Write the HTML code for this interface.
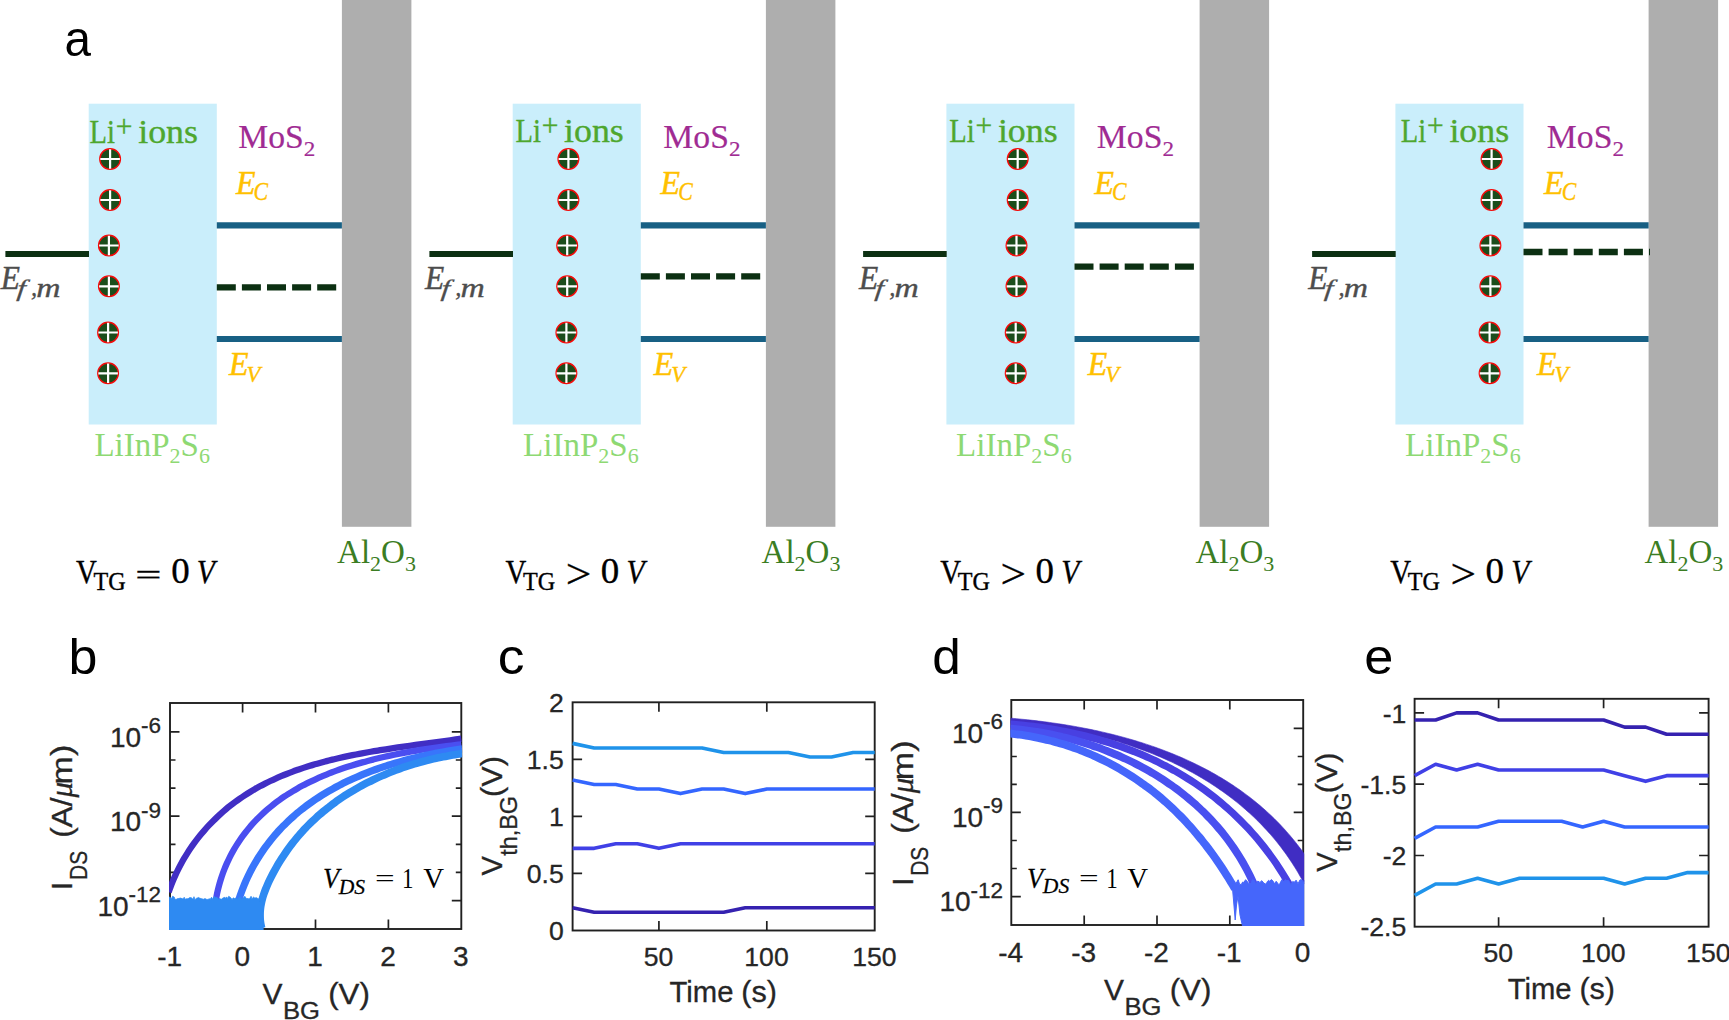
<!DOCTYPE html>
<html lang="en">
<head>
<meta charset="utf-8">
<title>Figure</title>
<style>
html,body{margin:0;padding:0;background:#fff;}
body{width:1729px;height:1020px;overflow:hidden;}
svg{display:block;}
</style>
</head>
<body>
<svg width="1729" height="1020" viewBox="0 0 1729 1020">
<rect width="1729" height="1020" fill="#fff"/>
<g id="panel-a">
<text transform="translate(64.38 56.19) scale(0.9369 1.0000)" font-family='"Liberation Sans", sans-serif' font-size="50.78" fill="#000">a</text>
<rect x="341.9" y="0" width="69.5" height="526.8" fill="#aeaeae"/>
<rect x="88.7" y="103.7" width="128.1" height="320.8" fill="#caeefb"/>
<line x1="5.4" y1="254" x2="89" y2="254" stroke="#0c3012" stroke-width="6.1"/>
<line x1="216.8" y1="225.3" x2="341.9" y2="225.3" stroke="#186084" stroke-width="6.2"/>
<line x1="216.8" y1="339" x2="341.9" y2="339" stroke="#186084" stroke-width="6.2"/>
<line x1="216.8" y1="287.3" x2="336.5" y2="287.3" stroke="#0c3012" stroke-width="6.3" stroke-dasharray="19 6.1"/>
<g transform="translate(110.1 159)"><circle r="10.25" fill="#1b4d1b" stroke="#f50a0a" stroke-width="1.5"/><path d="M-9.8 0H9.8M0 -9.8V9.8" stroke="#fff" stroke-width="2.2" fill="none"/></g>
<g transform="translate(110.1 200)"><circle r="10.25" fill="#1b4d1b" stroke="#f50a0a" stroke-width="1.5"/><path d="M-9.8 0H9.8M0 -9.8V9.8" stroke="#fff" stroke-width="2.2" fill="none"/></g>
<g transform="translate(108.9 245.5)"><circle r="10.25" fill="#1b4d1b" stroke="#f50a0a" stroke-width="1.5"/><path d="M-9.8 0H9.8M0 -9.8V9.8" stroke="#fff" stroke-width="2.2" fill="none"/></g>
<g transform="translate(108.9 286.3)"><circle r="10.25" fill="#1b4d1b" stroke="#f50a0a" stroke-width="1.5"/><path d="M-9.8 0H9.8M0 -9.8V9.8" stroke="#fff" stroke-width="2.2" fill="none"/></g>
<g transform="translate(108.1 332.5)"><circle r="10.25" fill="#1b4d1b" stroke="#f50a0a" stroke-width="1.5"/><path d="M-9.8 0H9.8M0 -9.8V9.8" stroke="#fff" stroke-width="2.2" fill="none"/></g>
<g transform="translate(108.1 373.3)"><circle r="10.25" fill="#1b4d1b" stroke="#f50a0a" stroke-width="1.5"/><path d="M-9.8 0H9.8M0 -9.8V9.8" stroke="#fff" stroke-width="2.2" fill="none"/></g>
<text transform="translate(89.61 142.9) scale(0.8413 1.0000)" font-family='"Liberation Serif", serif' font-size="34" fill="#4ea72e" stroke="#4ea72e" stroke-width="0.35">Li</text>
<text transform="translate(115.83 136.68) scale(0.9580 1.0000)" font-family='"Liberation Serif", serif' font-size="30.75" fill="#4ea72e" stroke="#4ea72e" stroke-width="0.35">+</text>
<text transform="translate(138.18 142.9) scale(1.0541 1.0000)" font-family='"Liberation Serif", serif' font-size="34" fill="#4ea72e" stroke="#4ea72e" stroke-width="0.35">ions</text>
<text transform="translate(238.17 147.9) scale(0.9912 1.0000)" font-family='"Liberation Serif", serif' font-size="34" fill="#a02b93" stroke="#a02b93" stroke-width="0.2">MoS</text>
<text transform="translate(303.82 155.8) scale(1.0503 1.0000)" font-family='"Liberation Serif", serif' font-size="22" fill="#a02b93" stroke="#a02b93" stroke-width="0.2">2</text>
<text transform="translate(236 193.5) scale(0.9392 1.0000)" font-family='"Liberation Serif", serif' font-size="34" font-style="italic" fill="#ffc000" stroke="#ffc000" stroke-width="0.5">E</text>
<text transform="translate(253.6 200.45) scale(0.8694 1.0000)" font-family='"Liberation Serif", serif' font-size="25.13" font-style="italic" fill="#ffc000" stroke="#ffc000" stroke-width="0.35">C</text>
<text transform="translate(229 374.9) scale(0.9392 1.0000)" font-family='"Liberation Serif", serif' font-size="34" font-style="italic" fill="#ffc000" stroke="#ffc000" stroke-width="0.5">E</text>
<text transform="translate(246.51 381.84) scale(0.9586 1.0000)" font-family='"Liberation Serif", serif' font-size="23.73" font-style="italic" fill="#ffc000" stroke="#ffc000" stroke-width="0.35">V</text>
<text transform="translate(0.69 289.4) scale(0.9247 1.0000)" font-family='"Liberation Serif", serif' font-size="34" font-style="italic" fill="#4d4d4d" stroke="#4d4d4d" stroke-width="0.45">E</text>
<text transform="translate(16.42 295.8) skewX(-6) scale(1.3026 1.0000)" font-family='"Liberation Serif", serif' font-size="23.54" font-style="italic" fill="#4d4d4d" stroke="#4d4d4d" stroke-width="0.3">f</text>
<text transform="translate(31 295.71) scale(1.0020 1.0000)" font-family='"Liberation Serif", serif' font-size="24.47" font-style="italic" fill="#4d4d4d" stroke="#4d4d4d" stroke-width="0.35">,</text>
<text transform="translate(36.32 296.7) scale(1.2353 1.0000)" font-family='"Liberation Serif", serif' font-size="27.23" font-style="italic" fill="#4d4d4d" stroke="#4d4d4d" stroke-width="0.35">m</text>
<text x="94.4" y="455.8" font-family='"Liberation Serif", serif' font-size="33" fill="#8ed973">LiInP<tspan font-size="22" dy="7.4">2</tspan><tspan dy="-7.4">S</tspan><tspan font-size="22" dy="7.4">6</tspan></text>
<text x="337.1" y="563.2" font-family='"Liberation Serif", serif' font-size="33" fill="#3b7d23">Al<tspan font-size="22" dy="7.6">2</tspan><tspan dy="-7.6">O</tspan><tspan font-size="22" dy="7.6">3</tspan></text>
<text transform="translate(75.91 583.3) scale(0.8487 1.0000)" font-family='"Liberation Serif", serif' font-size="34" fill="#000" stroke="#000" stroke-width="0.35">V</text>
<text transform="translate(93.48 589.9) scale(0.9947 1.0000)" font-family='"Liberation Serif", serif' font-size="24.3" fill="#000" stroke="#000" stroke-width="0.35">TG</text>
<text transform="translate(135.28 584.58) scale(1.3662 0.8471)" font-family='"Liberation Serif", serif' font-size="34" fill="#000" stroke="#000" stroke-width="0.35">=</text>
<text transform="translate(171.21 583.45) scale(1.0566 1.0000)" font-family='"Liberation Serif", serif' font-size="34.96" fill="#000" stroke="#000" stroke-width="0.35">0</text>
<text transform="translate(196.85 583.09) scale(0.8666 1.0000)" font-family='"Liberation Serif", serif' font-size="34.18" font-style="italic" fill="#000" stroke="#000" stroke-width="0.35">V</text>
<rect x="765.9" y="0" width="69.5" height="526.8" fill="#aeaeae"/>
<rect x="512.7" y="103.7" width="128.1" height="320.8" fill="#caeefb"/>
<line x1="429.4" y1="254" x2="513" y2="254" stroke="#0c3012" stroke-width="6.1"/>
<line x1="640.8" y1="225.3" x2="765.9" y2="225.3" stroke="#186084" stroke-width="6.2"/>
<line x1="640.8" y1="339" x2="765.9" y2="339" stroke="#186084" stroke-width="6.2"/>
<line x1="640.8" y1="276.4" x2="760.4" y2="276.4" stroke="#0c3012" stroke-width="6.3" stroke-dasharray="19 6.1"/>
<g transform="translate(568.4 159)"><circle r="10.25" fill="#1b4d1b" stroke="#f50a0a" stroke-width="1.5"/><path d="M-9.8 0H9.8M0 -9.8V9.8" stroke="#fff" stroke-width="2.2" fill="none"/></g>
<g transform="translate(568.4 200)"><circle r="10.25" fill="#1b4d1b" stroke="#f50a0a" stroke-width="1.5"/><path d="M-9.8 0H9.8M0 -9.8V9.8" stroke="#fff" stroke-width="2.2" fill="none"/></g>
<g transform="translate(567.2 245.5)"><circle r="10.25" fill="#1b4d1b" stroke="#f50a0a" stroke-width="1.5"/><path d="M-9.8 0H9.8M0 -9.8V9.8" stroke="#fff" stroke-width="2.2" fill="none"/></g>
<g transform="translate(567.2 286.3)"><circle r="10.25" fill="#1b4d1b" stroke="#f50a0a" stroke-width="1.5"/><path d="M-9.8 0H9.8M0 -9.8V9.8" stroke="#fff" stroke-width="2.2" fill="none"/></g>
<g transform="translate(566.4 332.5)"><circle r="10.25" fill="#1b4d1b" stroke="#f50a0a" stroke-width="1.5"/><path d="M-9.8 0H9.8M0 -9.8V9.8" stroke="#fff" stroke-width="2.2" fill="none"/></g>
<g transform="translate(566.4 373.3)"><circle r="10.25" fill="#1b4d1b" stroke="#f50a0a" stroke-width="1.5"/><path d="M-9.8 0H9.8M0 -9.8V9.8" stroke="#fff" stroke-width="2.2" fill="none"/></g>
<text transform="translate(515.51 142.1) scale(0.8413 1.0000)" font-family='"Liberation Serif", serif' font-size="34" fill="#4ea72e" stroke="#4ea72e" stroke-width="0.35">Li</text>
<text transform="translate(541.73 135.88) scale(0.9580 1.0000)" font-family='"Liberation Serif", serif' font-size="30.75" fill="#4ea72e" stroke="#4ea72e" stroke-width="0.35">+</text>
<text transform="translate(564.08 142.1) scale(1.0541 1.0000)" font-family='"Liberation Serif", serif' font-size="34" fill="#4ea72e" stroke="#4ea72e" stroke-width="0.35">ions</text>
<text transform="translate(663.37 147.9) scale(0.9912 1.0000)" font-family='"Liberation Serif", serif' font-size="34" fill="#a02b93" stroke="#a02b93" stroke-width="0.2">MoS</text>
<text transform="translate(729.02 155.8) scale(1.0503 1.0000)" font-family='"Liberation Serif", serif' font-size="22" fill="#a02b93" stroke="#a02b93" stroke-width="0.2">2</text>
<text transform="translate(660.6 193.5) scale(0.9392 1.0000)" font-family='"Liberation Serif", serif' font-size="34" font-style="italic" fill="#ffc000" stroke="#ffc000" stroke-width="0.5">E</text>
<text transform="translate(678.2 200.45) scale(0.8694 1.0000)" font-family='"Liberation Serif", serif' font-size="25.13" font-style="italic" fill="#ffc000" stroke="#ffc000" stroke-width="0.35">C</text>
<text transform="translate(653.8 374.9) scale(0.9392 1.0000)" font-family='"Liberation Serif", serif' font-size="34" font-style="italic" fill="#ffc000" stroke="#ffc000" stroke-width="0.5">E</text>
<text transform="translate(671.31 381.84) scale(0.9586 1.0000)" font-family='"Liberation Serif", serif' font-size="23.73" font-style="italic" fill="#ffc000" stroke="#ffc000" stroke-width="0.35">V</text>
<text transform="translate(424.99 289.4) scale(0.9247 1.0000)" font-family='"Liberation Serif", serif' font-size="34" font-style="italic" fill="#4d4d4d" stroke="#4d4d4d" stroke-width="0.45">E</text>
<text transform="translate(440.72 295.8) skewX(-6) scale(1.3026 1.0000)" font-family='"Liberation Serif", serif' font-size="23.54" font-style="italic" fill="#4d4d4d" stroke="#4d4d4d" stroke-width="0.3">f</text>
<text transform="translate(455.3 295.71) scale(1.0020 1.0000)" font-family='"Liberation Serif", serif' font-size="24.47" font-style="italic" fill="#4d4d4d" stroke="#4d4d4d" stroke-width="0.35">,</text>
<text transform="translate(460.62 296.7) scale(1.2353 1.0000)" font-family='"Liberation Serif", serif' font-size="27.23" font-style="italic" fill="#4d4d4d" stroke="#4d4d4d" stroke-width="0.35">m</text>
<text x="523.1" y="455.8" font-family='"Liberation Serif", serif' font-size="33" fill="#8ed973">LiInP<tspan font-size="22" dy="7.4">2</tspan><tspan dy="-7.4">S</tspan><tspan font-size="22" dy="7.4">6</tspan></text>
<text x="761.6" y="563.2" font-family='"Liberation Serif", serif' font-size="33" fill="#3b7d23">Al<tspan font-size="22" dy="7.6">2</tspan><tspan dy="-7.6">O</tspan><tspan font-size="22" dy="7.6">3</tspan></text>
<text transform="translate(505.51 583.3) scale(0.8487 1.0000)" font-family='"Liberation Serif", serif' font-size="34" fill="#000" stroke="#000" stroke-width="0.35">V</text>
<text transform="translate(523.08 589.9) scale(0.9947 1.0000)" font-family='"Liberation Serif", serif' font-size="24.3" fill="#000" stroke="#000" stroke-width="0.35">TG</text>
<text transform="translate(565.73 587.64) scale(1.0621 1.0000)" font-family='"Liberation Serif", serif' font-size="42.69" fill="#000" stroke="#000" stroke-width="0.35">&gt;</text>
<text transform="translate(600.81 583.45) scale(1.0566 1.0000)" font-family='"Liberation Serif", serif' font-size="34.96" fill="#000" stroke="#000" stroke-width="0.35">0</text>
<text transform="translate(626.45 583.09) scale(0.8666 1.0000)" font-family='"Liberation Serif", serif' font-size="34.18" font-style="italic" fill="#000" stroke="#000" stroke-width="0.35">V</text>
<rect x="1199.6" y="0" width="69.5" height="526.8" fill="#aeaeae"/>
<rect x="946.4" y="103.7" width="128.1" height="320.8" fill="#caeefb"/>
<line x1="863.1" y1="254" x2="946.7" y2="254" stroke="#0c3012" stroke-width="6.1"/>
<line x1="1074.5" y1="225.3" x2="1199.6" y2="225.3" stroke="#186084" stroke-width="6.2"/>
<line x1="1074.5" y1="339" x2="1199.6" y2="339" stroke="#186084" stroke-width="6.2"/>
<line x1="1074.5" y1="266.6" x2="1194.3" y2="266.6" stroke="#0c3012" stroke-width="6.3" stroke-dasharray="19 6.1"/>
<g transform="translate(1017.7 159)"><circle r="10.25" fill="#1b4d1b" stroke="#f50a0a" stroke-width="1.5"/><path d="M-9.8 0H9.8M0 -9.8V9.8" stroke="#fff" stroke-width="2.2" fill="none"/></g>
<g transform="translate(1017.7 200)"><circle r="10.25" fill="#1b4d1b" stroke="#f50a0a" stroke-width="1.5"/><path d="M-9.8 0H9.8M0 -9.8V9.8" stroke="#fff" stroke-width="2.2" fill="none"/></g>
<g transform="translate(1016.5 245.5)"><circle r="10.25" fill="#1b4d1b" stroke="#f50a0a" stroke-width="1.5"/><path d="M-9.8 0H9.8M0 -9.8V9.8" stroke="#fff" stroke-width="2.2" fill="none"/></g>
<g transform="translate(1016.5 286.3)"><circle r="10.25" fill="#1b4d1b" stroke="#f50a0a" stroke-width="1.5"/><path d="M-9.8 0H9.8M0 -9.8V9.8" stroke="#fff" stroke-width="2.2" fill="none"/></g>
<g transform="translate(1015.7 332.5)"><circle r="10.25" fill="#1b4d1b" stroke="#f50a0a" stroke-width="1.5"/><path d="M-9.8 0H9.8M0 -9.8V9.8" stroke="#fff" stroke-width="2.2" fill="none"/></g>
<g transform="translate(1015.7 373.3)"><circle r="10.25" fill="#1b4d1b" stroke="#f50a0a" stroke-width="1.5"/><path d="M-9.8 0H9.8M0 -9.8V9.8" stroke="#fff" stroke-width="2.2" fill="none"/></g>
<text transform="translate(949.31 142.1) scale(0.8413 1.0000)" font-family='"Liberation Serif", serif' font-size="34" fill="#4ea72e" stroke="#4ea72e" stroke-width="0.35">Li</text>
<text transform="translate(975.53 135.88) scale(0.9580 1.0000)" font-family='"Liberation Serif", serif' font-size="30.75" fill="#4ea72e" stroke="#4ea72e" stroke-width="0.35">+</text>
<text transform="translate(997.88 142.1) scale(1.0541 1.0000)" font-family='"Liberation Serif", serif' font-size="34" fill="#4ea72e" stroke="#4ea72e" stroke-width="0.35">ions</text>
<text transform="translate(1096.87 147.9) scale(0.9912 1.0000)" font-family='"Liberation Serif", serif' font-size="34" fill="#a02b93" stroke="#a02b93" stroke-width="0.2">MoS</text>
<text transform="translate(1162.52 155.8) scale(1.0503 1.0000)" font-family='"Liberation Serif", serif' font-size="22" fill="#a02b93" stroke="#a02b93" stroke-width="0.2">2</text>
<text transform="translate(1094.4 193.5) scale(0.9392 1.0000)" font-family='"Liberation Serif", serif' font-size="34" font-style="italic" fill="#ffc000" stroke="#ffc000" stroke-width="0.5">E</text>
<text transform="translate(1112 200.45) scale(0.8694 1.0000)" font-family='"Liberation Serif", serif' font-size="25.13" font-style="italic" fill="#ffc000" stroke="#ffc000" stroke-width="0.35">C</text>
<text transform="translate(1087.8 374.9) scale(0.9392 1.0000)" font-family='"Liberation Serif", serif' font-size="34" font-style="italic" fill="#ffc000" stroke="#ffc000" stroke-width="0.5">E</text>
<text transform="translate(1105.31 381.84) scale(0.9586 1.0000)" font-family='"Liberation Serif", serif' font-size="23.73" font-style="italic" fill="#ffc000" stroke="#ffc000" stroke-width="0.35">V</text>
<text transform="translate(858.89 289.4) scale(0.9247 1.0000)" font-family='"Liberation Serif", serif' font-size="34" font-style="italic" fill="#4d4d4d" stroke="#4d4d4d" stroke-width="0.45">E</text>
<text transform="translate(874.62 295.8) skewX(-6) scale(1.3026 1.0000)" font-family='"Liberation Serif", serif' font-size="23.54" font-style="italic" fill="#4d4d4d" stroke="#4d4d4d" stroke-width="0.3">f</text>
<text transform="translate(889.2 295.71) scale(1.0020 1.0000)" font-family='"Liberation Serif", serif' font-size="24.47" font-style="italic" fill="#4d4d4d" stroke="#4d4d4d" stroke-width="0.35">,</text>
<text transform="translate(894.52 296.7) scale(1.2353 1.0000)" font-family='"Liberation Serif", serif' font-size="27.23" font-style="italic" fill="#4d4d4d" stroke="#4d4d4d" stroke-width="0.35">m</text>
<text x="956.1" y="455.8" font-family='"Liberation Serif", serif' font-size="33" fill="#8ed973">LiInP<tspan font-size="22" dy="7.4">2</tspan><tspan dy="-7.4">S</tspan><tspan font-size="22" dy="7.4">6</tspan></text>
<text x="1195.5" y="563.2" font-family='"Liberation Serif", serif' font-size="33" fill="#3b7d23">Al<tspan font-size="22" dy="7.6">2</tspan><tspan dy="-7.6">O</tspan><tspan font-size="22" dy="7.6">3</tspan></text>
<text transform="translate(940.21 583.3) scale(0.8487 1.0000)" font-family='"Liberation Serif", serif' font-size="34" fill="#000" stroke="#000" stroke-width="0.35">V</text>
<text transform="translate(957.78 589.9) scale(0.9947 1.0000)" font-family='"Liberation Serif", serif' font-size="24.3" fill="#000" stroke="#000" stroke-width="0.35">TG</text>
<text transform="translate(1000.43 587.64) scale(1.0621 1.0000)" font-family='"Liberation Serif", serif' font-size="42.69" fill="#000" stroke="#000" stroke-width="0.35">&gt;</text>
<text transform="translate(1035.51 583.45) scale(1.0566 1.0000)" font-family='"Liberation Serif", serif' font-size="34.96" fill="#000" stroke="#000" stroke-width="0.35">0</text>
<text transform="translate(1061.15 583.09) scale(0.8666 1.0000)" font-family='"Liberation Serif", serif' font-size="34.18" font-style="italic" fill="#000" stroke="#000" stroke-width="0.35">V</text>
<rect x="1648.6" y="0" width="69.5" height="526.8" fill="#aeaeae"/>
<rect x="1395.4" y="103.7" width="128.1" height="320.8" fill="#caeefb"/>
<line x1="1312.1" y1="254" x2="1395.7" y2="254" stroke="#0c3012" stroke-width="6.1"/>
<line x1="1523.5" y1="225.3" x2="1648.6" y2="225.3" stroke="#186084" stroke-width="6.2"/>
<line x1="1523.5" y1="339" x2="1648.6" y2="339" stroke="#186084" stroke-width="6.2"/>
<line x1="1523.5" y1="252" x2="1650" y2="252" stroke="#0c3012" stroke-width="6.3" stroke-dasharray="19 6.1"/>
<g transform="translate(1491.6 159)"><circle r="10.25" fill="#1b4d1b" stroke="#f50a0a" stroke-width="1.5"/><path d="M-9.8 0H9.8M0 -9.8V9.8" stroke="#fff" stroke-width="2.2" fill="none"/></g>
<g transform="translate(1491.6 200)"><circle r="10.25" fill="#1b4d1b" stroke="#f50a0a" stroke-width="1.5"/><path d="M-9.8 0H9.8M0 -9.8V9.8" stroke="#fff" stroke-width="2.2" fill="none"/></g>
<g transform="translate(1490.4 245.5)"><circle r="10.25" fill="#1b4d1b" stroke="#f50a0a" stroke-width="1.5"/><path d="M-9.8 0H9.8M0 -9.8V9.8" stroke="#fff" stroke-width="2.2" fill="none"/></g>
<g transform="translate(1490.4 286.3)"><circle r="10.25" fill="#1b4d1b" stroke="#f50a0a" stroke-width="1.5"/><path d="M-9.8 0H9.8M0 -9.8V9.8" stroke="#fff" stroke-width="2.2" fill="none"/></g>
<g transform="translate(1489.6 332.5)"><circle r="10.25" fill="#1b4d1b" stroke="#f50a0a" stroke-width="1.5"/><path d="M-9.8 0H9.8M0 -9.8V9.8" stroke="#fff" stroke-width="2.2" fill="none"/></g>
<g transform="translate(1489.6 373.3)"><circle r="10.25" fill="#1b4d1b" stroke="#f50a0a" stroke-width="1.5"/><path d="M-9.8 0H9.8M0 -9.8V9.8" stroke="#fff" stroke-width="2.2" fill="none"/></g>
<text transform="translate(1400.81 142.1) scale(0.8413 1.0000)" font-family='"Liberation Serif", serif' font-size="34" fill="#4ea72e" stroke="#4ea72e" stroke-width="0.35">Li</text>
<text transform="translate(1427.03 135.88) scale(0.9580 1.0000)" font-family='"Liberation Serif", serif' font-size="30.75" fill="#4ea72e" stroke="#4ea72e" stroke-width="0.35">+</text>
<text transform="translate(1449.38 142.1) scale(1.0541 1.0000)" font-family='"Liberation Serif", serif' font-size="34" fill="#4ea72e" stroke="#4ea72e" stroke-width="0.35">ions</text>
<text transform="translate(1546.87 147.9) scale(0.9912 1.0000)" font-family='"Liberation Serif", serif' font-size="34" fill="#a02b93" stroke="#a02b93" stroke-width="0.2">MoS</text>
<text transform="translate(1612.52 155.8) scale(1.0503 1.0000)" font-family='"Liberation Serif", serif' font-size="22" fill="#a02b93" stroke="#a02b93" stroke-width="0.2">2</text>
<text transform="translate(1544.1 193.5) scale(0.9392 1.0000)" font-family='"Liberation Serif", serif' font-size="34" font-style="italic" fill="#ffc000" stroke="#ffc000" stroke-width="0.5">E</text>
<text transform="translate(1561.7 200.45) scale(0.8694 1.0000)" font-family='"Liberation Serif", serif' font-size="25.13" font-style="italic" fill="#ffc000" stroke="#ffc000" stroke-width="0.35">C</text>
<text transform="translate(1537.1 374.9) scale(0.9392 1.0000)" font-family='"Liberation Serif", serif' font-size="34" font-style="italic" fill="#ffc000" stroke="#ffc000" stroke-width="0.5">E</text>
<text transform="translate(1554.61 381.84) scale(0.9586 1.0000)" font-family='"Liberation Serif", serif' font-size="23.73" font-style="italic" fill="#ffc000" stroke="#ffc000" stroke-width="0.35">V</text>
<text transform="translate(1308.19 289.4) scale(0.9247 1.0000)" font-family='"Liberation Serif", serif' font-size="34" font-style="italic" fill="#4d4d4d" stroke="#4d4d4d" stroke-width="0.45">E</text>
<text transform="translate(1323.92 295.8) skewX(-6) scale(1.3026 1.0000)" font-family='"Liberation Serif", serif' font-size="23.54" font-style="italic" fill="#4d4d4d" stroke="#4d4d4d" stroke-width="0.3">f</text>
<text transform="translate(1338.5 295.71) scale(1.0020 1.0000)" font-family='"Liberation Serif", serif' font-size="24.47" font-style="italic" fill="#4d4d4d" stroke="#4d4d4d" stroke-width="0.35">,</text>
<text transform="translate(1343.82 296.7) scale(1.2353 1.0000)" font-family='"Liberation Serif", serif' font-size="27.23" font-style="italic" fill="#4d4d4d" stroke="#4d4d4d" stroke-width="0.35">m</text>
<text x="1405.1" y="455.8" font-family='"Liberation Serif", serif' font-size="33" fill="#8ed973">LiInP<tspan font-size="22" dy="7.4">2</tspan><tspan dy="-7.4">S</tspan><tspan font-size="22" dy="7.4">6</tspan></text>
<text x="1644.5" y="563.2" font-family='"Liberation Serif", serif' font-size="33" fill="#3b7d23">Al<tspan font-size="22" dy="7.6">2</tspan><tspan dy="-7.6">O</tspan><tspan font-size="22" dy="7.6">3</tspan></text>
<text transform="translate(1390.21 583.3) scale(0.8487 1.0000)" font-family='"Liberation Serif", serif' font-size="34" fill="#000" stroke="#000" stroke-width="0.35">V</text>
<text transform="translate(1407.78 589.9) scale(0.9947 1.0000)" font-family='"Liberation Serif", serif' font-size="24.3" fill="#000" stroke="#000" stroke-width="0.35">TG</text>
<text transform="translate(1450.43 587.64) scale(1.0621 1.0000)" font-family='"Liberation Serif", serif' font-size="42.69" fill="#000" stroke="#000" stroke-width="0.35">&gt;</text>
<text transform="translate(1485.51 583.45) scale(1.0566 1.0000)" font-family='"Liberation Serif", serif' font-size="34.96" fill="#000" stroke="#000" stroke-width="0.35">0</text>
<text transform="translate(1511.15 583.09) scale(0.8666 1.0000)" font-family='"Liberation Serif", serif' font-size="34.18" font-style="italic" fill="#000" stroke="#000" stroke-width="0.35">V</text>
</g>
<g id="panel-b">
<text transform="translate(68.52 674.2) scale(1.0358 1.0000)" font-family='"Liberation Sans", sans-serif' font-size="50.2" fill="#000">b</text>
<rect x="170" y="703" width="291.3" height="226" fill="none" stroke="#202020" stroke-width="1.9"/>
<path d="M242.6 929v-9.5M242.6 703v9.5M315.5 929v-9.5M315.5 703v9.5M388.4 929v-9.5M388.4 703v9.5M170 731.9h9.5M461.3 731.9h-9.5M170 816.2h9.5M461.3 816.2h-9.5M170 900.6h9.5M461.3 900.6h-9.5M170 760h5.5M461.3 760h-5.5M170 788.1h5.5M461.3 788.1h-5.5M170 844.3h5.5M461.3 844.3h-5.5M170 872.4h5.5M461.3 872.4h-5.5" stroke="#202020" stroke-width="1.7" fill="none"/>
<clipPath id="clipb"><rect x="169" y="702" width="293.3" height="228"/></clipPath>
<g clip-path="url(#clipb)" fill="none" stroke-linejoin="round" stroke-linecap="butt">
<path d="M168.62 892.19C168.98 891.21 170.02 888.24 170.76 886.3C171.5 884.36 172.27 882.44 173.06 880.54C173.86 878.64 174.69 876.76 175.54 874.9C176.39 873.04 177.28 871.2 178.19 869.38C179.09 867.56 180.03 865.76 180.99 863.98C181.96 862.21 182.94 860.45 183.96 858.72C184.97 856.98 186.01 855.27 187.08 853.57C188.15 851.88 189.24 850.21 190.35 848.56C191.47 846.91 192.61 845.28 193.77 843.67C194.93 842.06 196.12 840.48 197.33 838.91C198.54 837.35 199.77 835.8 201.03 834.28C202.28 832.76 203.56 831.26 204.86 829.79C206.16 828.31 207.48 826.85 208.82 825.42C210.16 823.99 211.53 822.57 212.91 821.19C214.3 819.8 215.7 818.43 217.12 817.09C218.55 815.74 219.99 814.42 221.45 813.12C222.91 811.82 224.39 810.54 225.89 809.29C227.39 808.04 228.91 806.81 230.45 805.6C231.98 804.39 233.53 803.2 235.1 802.04C236.67 800.88 238.26 799.74 239.86 798.62C241.47 797.51 243.09 796.42 244.72 795.35C246.36 794.28 248.01 793.23 249.67 792.21C251.34 791.19 253.02 790.19 254.71 789.21C256.41 788.23 258.12 787.28 259.84 786.35C261.56 785.42 263.3 784.51 265.04 783.62C266.79 782.74 268.55 781.87 270.33 781.02C272.1 780.18 273.89 779.35 275.68 778.55C277.48 777.74 279.29 776.96 281.11 776.19C282.93 775.43 284.76 774.68 286.6 773.95C288.44 773.23 290.29 772.52 292.15 771.83C294.01 771.13 295.88 770.46 297.76 769.8C299.64 769.15 301.52 768.51 303.42 767.88C305.31 767.26 307.22 766.65 309.13 766.06C311.04 765.47 312.96 764.89 314.88 764.33C316.81 763.77 318.74 763.22 320.68 762.69C322.61 762.16 324.56 761.64 326.51 761.14C328.46 760.63 330.41 760.14 332.37 759.66C334.33 759.18 336.29 758.72 338.26 758.26C340.23 757.81 342.2 757.36 344.18 756.93C346.15 756.5 348.13 756.08 350.11 755.67C352.09 755.26 354.08 754.86 356.06 754.47C358.05 754.08 360.03 753.71 362.02 753.33C364.01 752.96 366 752.6 367.99 752.25C369.98 751.9 371.98 751.55 373.97 751.21C375.96 750.87 377.95 750.55 379.94 750.22C381.93 749.9 383.92 749.58 385.91 749.27C387.9 748.96 389.89 748.66 391.87 748.36C393.86 748.06 395.84 747.76 397.82 747.48C399.8 747.19 401.78 746.9 403.75 746.62C405.72 746.34 407.7 746.06 409.66 745.79C411.63 745.52 413.59 745.25 415.55 744.98C417.5 744.71 419.46 744.44 421.4 744.18C423.35 743.92 425.29 743.65 427.23 743.39C429.16 743.13 431.09 742.87 433.01 742.61C434.94 742.35 436.85 742.09 438.76 741.83C440.67 741.57 442.57 741.31 444.46 741.05C446.35 740.78 448.24 740.52 450.11 740.26C451.99 739.99 453.85 739.72 455.71 739.45C457.56 739.18 460.32 738.77 461.25 738.63" stroke="#412ec4" stroke-width="6.3"/>
<path d="M215.69 901.01C215.86 900.07 216.34 897.2 216.72 895.33C217.1 893.45 217.5 891.6 217.94 889.76C218.38 887.92 218.85 886.1 219.35 884.3C219.85 882.5 220.38 880.72 220.94 878.96C221.5 877.2 222.08 875.46 222.7 873.74C223.32 872.02 223.96 870.32 224.64 868.63C225.31 866.95 226.01 865.29 226.74 863.64C227.47 862 228.23 860.38 229.01 858.77C229.8 857.17 230.61 855.58 231.44 854.01C232.28 852.45 233.14 850.9 234.02 849.37C234.91 847.85 235.82 846.34 236.76 844.85C237.7 843.36 238.66 841.89 239.64 840.44C240.62 838.99 241.63 837.56 242.66 836.15C243.7 834.74 244.75 833.35 245.83 831.98C246.9 830.61 248 829.26 249.12 827.93C250.24 826.59 251.38 825.28 252.55 823.99C253.71 822.7 254.89 821.42 256.1 820.17C257.3 818.91 258.52 817.68 259.77 816.47C261.01 815.25 262.27 814.06 263.55 812.88C264.83 811.71 266.14 810.55 267.45 809.42C268.77 808.28 270.11 807.17 271.46 806.07C272.81 804.97 274.18 803.9 275.57 802.84C276.96 801.78 278.36 800.75 279.78 799.73C281.2 798.71 282.64 797.71 284.09 796.73C285.54 795.75 287 794.79 288.48 793.85C289.96 792.91 291.46 791.99 292.97 791.08C294.48 790.17 296 789.29 297.53 788.41C299.07 787.54 300.62 786.69 302.18 785.85C303.74 785.02 305.31 784.2 306.89 783.4C308.48 782.6 310.07 781.81 311.68 781.04C313.28 780.27 314.9 779.52 316.53 778.78C318.16 778.04 319.79 777.32 321.44 776.61C323.09 775.91 324.74 775.22 326.41 774.54C328.07 773.87 329.75 773.2 331.43 772.56C333.11 771.91 334.8 771.28 336.5 770.66C338.19 770.04 339.9 769.44 341.61 768.85C343.32 768.25 345.04 767.68 346.76 767.11C348.48 766.55 350.21 766 351.95 765.46C353.68 764.92 355.42 764.4 357.16 763.88C358.91 763.37 360.66 762.87 362.41 762.38C364.16 761.89 365.91 761.41 367.67 760.95C369.43 760.48 371.19 760.03 372.96 759.58C374.72 759.14 376.48 758.71 378.25 758.28C380.02 757.86 381.79 757.45 383.56 757.05C385.33 756.65 387.1 756.25 388.87 755.87C390.64 755.49 392.41 755.12 394.18 754.76C395.95 754.39 397.72 754.04 399.49 753.69C401.25 753.35 403.02 753.01 404.79 752.68C406.55 752.35 408.31 752.04 410.07 751.72C411.83 751.41 413.59 751.11 415.34 750.81C417.1 750.51 418.85 750.22 420.6 749.94C422.34 749.66 424.08 749.39 425.82 749.12C427.56 748.85 429.29 748.59 431.02 748.33C432.74 748.07 434.46 747.82 436.18 747.58C437.89 747.34 439.6 747.1 441.3 746.86C443 746.63 444.7 746.4 446.38 746.18C448.07 745.96 449.75 745.74 451.42 745.53C453.09 745.31 454.75 745.1 456.4 744.9C458.05 744.69 460.51 744.39 461.33 744.29" stroke="#4a4ef0" stroke-width="6.3"/>
<path d="M238.54 900.6C238.8 899.81 239.55 897.44 240.08 895.87C240.62 894.3 241.18 892.74 241.75 891.2C242.33 889.65 242.92 888.11 243.54 886.59C244.15 885.06 244.79 883.55 245.44 882.04C246.1 880.54 246.77 879.05 247.47 877.57C248.16 876.09 248.87 874.62 249.6 873.16C250.33 871.7 251.08 870.25 251.85 868.82C252.62 867.38 253.4 865.96 254.2 864.55C255.01 863.14 255.83 861.74 256.67 860.35C257.5 858.96 258.36 857.59 259.23 856.23C260.11 854.87 260.99 853.52 261.9 852.18C262.81 850.84 263.73 849.52 264.67 848.21C265.61 846.9 266.56 845.6 267.53 844.32C268.5 843.03 269.49 841.76 270.49 840.51C271.49 839.25 272.51 838.01 273.54 836.78C274.57 835.55 275.62 834.33 276.68 833.13C277.74 831.93 278.82 830.74 279.91 829.57C281 828.4 282.1 827.24 283.22 826.1C284.34 824.95 285.47 823.82 286.61 822.71C287.76 821.6 288.91 820.5 290.09 819.41C291.26 818.33 292.44 817.26 293.64 816.2C294.83 815.15 296.04 814.11 297.26 813.08C298.48 812.06 299.72 811.05 300.96 810.05C302.21 809.06 303.46 808.07 304.73 807.1C306 806.14 307.28 805.18 308.57 804.24C309.86 803.3 311.16 802.38 312.47 801.46C313.78 800.55 315.1 799.65 316.43 798.77C317.76 797.88 319.11 797.01 320.46 796.15C321.81 795.29 323.17 794.45 324.54 793.62C325.91 792.78 327.29 791.96 328.68 791.16C330.07 790.35 331.47 789.56 332.87 788.78C334.28 788 335.69 787.23 337.11 786.48C338.54 785.72 339.97 784.98 341.41 784.25C342.84 783.52 344.29 782.8 345.74 782.1C347.2 781.39 348.66 780.7 350.12 780.02C351.59 779.33 353.07 778.66 354.55 778.01C356.03 777.35 357.51 776.7 359.01 776.07C360.5 775.43 362 774.81 363.5 774.2C365.01 773.59 366.52 772.99 368.03 772.4C369.55 771.81 371.07 771.23 372.6 770.67C374.12 770.1 375.65 769.54 377.19 769C378.72 768.45 380.26 767.92 381.81 767.4C383.35 766.87 384.9 766.36 386.45 765.86C388 765.36 389.56 764.86 391.11 764.38C392.67 763.9 394.23 763.43 395.8 762.97C397.36 762.5 398.93 762.05 400.5 761.61C402.07 761.17 403.64 760.74 405.21 760.31C406.79 759.89 408.36 759.48 409.94 759.08C411.52 758.67 413.1 758.28 414.68 757.89C416.26 757.51 417.84 757.13 419.42 756.77C421 756.4 422.59 756.04 424.17 755.69C425.75 755.34 427.34 755.01 428.92 754.67C430.5 754.34 432.09 754.02 433.67 753.71C435.25 753.39 436.84 753.09 438.42 752.79C440 752.49 441.58 752.2 443.16 751.92C444.74 751.64 446.32 751.37 447.9 751.1C449.48 750.84 451.06 750.58 452.63 750.33C454.2 750.08 455.77 749.84 457.34 749.61C458.91 749.37 461.26 749.04 462.05 748.92" stroke="#3875fb" stroke-width="7.2"/>
<path d="M261.67 928.1C261.5 927.26 260.9 924.75 260.64 923.08C260.39 921.42 260.23 919.77 260.13 918.12C260.04 916.48 260.04 914.84 260.1 913.22C260.16 911.59 260.29 909.97 260.49 908.36C260.68 906.75 260.95 905.15 261.27 903.56C261.58 901.97 261.96 900.39 262.39 898.82C262.81 897.25 263.29 895.69 263.81 894.14C264.33 892.59 264.89 891.04 265.49 889.51C266.08 887.98 266.72 886.46 267.38 884.95C268.04 883.44 268.74 881.94 269.45 880.45C270.16 878.96 270.9 877.48 271.65 876.01C272.4 874.54 273.16 873.08 273.95 871.64C274.73 870.19 275.53 868.75 276.34 867.33C277.16 865.9 277.99 864.49 278.84 863.09C279.69 861.69 280.55 860.29 281.43 858.92C282.31 857.54 283.21 856.17 284.12 854.81C285.03 853.46 285.95 852.12 286.9 850.78C287.84 849.45 288.8 848.13 289.77 846.83C290.74 845.52 291.73 844.23 292.73 842.94C293.73 841.66 294.75 840.39 295.78 839.14C296.82 837.88 297.86 836.64 298.92 835.4C299.99 834.17 301.06 832.96 302.15 831.75C303.24 830.55 304.34 829.35 305.46 828.18C306.58 827 307.71 825.83 308.86 824.68C310 823.53 311.16 822.4 312.34 821.27C313.51 820.15 314.7 819.04 315.9 817.94C317.1 816.85 318.31 815.77 319.54 814.7C320.76 813.63 322 812.58 323.25 811.54C324.5 810.5 325.76 809.47 327.04 808.46C328.31 807.44 329.6 806.45 330.9 805.46C332.19 804.48 333.5 803.5 334.82 802.55C336.14 801.59 337.47 800.64 338.82 799.71C340.16 798.78 341.51 797.87 342.87 796.96C344.23 796.06 345.61 795.17 346.99 794.3C348.37 793.42 349.76 792.56 351.16 791.71C352.56 790.86 353.97 790.02 355.39 789.2C356.81 788.38 358.24 787.57 359.68 786.78C361.11 785.98 362.56 785.2 364.01 784.44C365.46 783.67 366.92 782.91 368.39 782.17C369.86 781.43 371.33 780.71 372.82 779.99C374.3 779.28 375.79 778.58 377.29 777.89C378.78 777.2 380.28 776.53 381.79 775.87C383.3 775.21 384.82 774.56 386.34 773.93C387.86 773.3 389.39 772.68 390.92 772.07C392.45 771.46 393.99 770.87 395.53 770.29C397.08 769.71 398.63 769.14 400.18 768.59C401.73 768.03 403.29 767.49 404.85 766.96C406.41 766.44 407.97 765.92 409.54 765.42C411.11 764.92 412.68 764.43 414.26 763.96C415.83 763.48 417.41 763.02 418.99 762.57C420.58 762.12 422.16 761.69 423.75 761.26C425.33 760.84 426.92 760.43 428.51 760.03C430.11 759.64 431.7 759.25 433.29 758.88C434.89 758.51 436.48 758.16 438.08 757.81C439.68 757.47 441.28 757.13 442.88 756.82C444.47 756.5 446.07 756.19 447.67 755.9C449.27 755.61 450.87 755.33 452.47 755.06C454.07 754.79 455.67 754.54 457.27 754.3C458.87 754.05 461.27 753.72 462.07 753.61" stroke="#2e8af2" stroke-width="7.6"/>
<path d="M169 930L169 897.06L170.34 897.53L171.75 898.45L172.61 896.25L174.25 897.13L175.29 899.78L176.56 899.21L177.83 898.5L178.78 898.49L180.45 898.08L181.99 898.62L182.86 898.93L184.25 897.28L185.08 899.32L186.35 898.79L188.03 898.77L189.75 897.62L191.35 897.8L193.09 899.36L193.98 896.69L195 899.68L196.24 898.46L197.34 898.03L198.52 897.46L199.91 898.3L201.61 898.66L203.34 899.28L205.13 898.62L206.1 899.3L207.86 899.46L209.23 898.77L210.24 899.19L211.62 897.23L212.48 899.27L214.27 896.52L215.87 897.68L216.82 897.26L218.39 899.34L219.23 898.41L220.08 898.79L221.21 899.37L222.99 898.02L224.79 897.31L225.67 898.36L226.5 896.91L227.7 898.4L228.66 896.35L230.33 897.33L232.09 899.43L233.26 897.86L234.58 898.52L235.98 898.21L237.4 899.59L238.71 897.75L240.23 897.06L241.33 899.72L242.65 898.17L243.46 897.69L244.84 896.27L246.26 898.48L247.12 898.46L248.38 898.65L249.54 898.75L251.07 896.28L251.94 898.63L253.7 897.1L254.95 898.33L256.07 897.56L257.19 898.24L258.58 898.83L259.76 901.24L260.59 901L262.12 900.99L262.8 905L263.2 930Z" fill="#2e8af2" stroke="#2e8af2" stroke-width="0.8"/>
</g>
<text x="169.6" y="966" font-family='"Liberation Sans", sans-serif' font-size="28" fill="#262626" stroke="#262626" stroke-width="0.3" text-anchor="middle">-1</text>
<text x="242.2" y="966" font-family='"Liberation Sans", sans-serif' font-size="28" fill="#262626" stroke="#262626" stroke-width="0.3" text-anchor="middle">0</text>
<text x="315.1" y="966" font-family='"Liberation Sans", sans-serif' font-size="28" fill="#262626" stroke="#262626" stroke-width="0.3" text-anchor="middle">1</text>
<text x="388" y="966" font-family='"Liberation Sans", sans-serif' font-size="28" fill="#262626" stroke="#262626" stroke-width="0.3" text-anchor="middle">2</text>
<text x="460.9" y="966" font-family='"Liberation Sans", sans-serif' font-size="28" fill="#262626" stroke="#262626" stroke-width="0.3" text-anchor="middle">3</text>
<text x="161.1" y="747" font-family='"Liberation Sans", sans-serif' font-size="28" fill="#262626" stroke="#262626" stroke-width="0.3" text-anchor="end">10<tspan font-size="22.5" dy="-13.7">-6</tspan></text>
<text x="161.1" y="831.3" font-family='"Liberation Sans", sans-serif' font-size="28" fill="#262626" stroke="#262626" stroke-width="0.3" text-anchor="end">10<tspan font-size="22.5" dy="-13.7">-9</tspan></text>
<text x="161.1" y="915.7" font-family='"Liberation Sans", sans-serif' font-size="28" fill="#262626" stroke="#262626" stroke-width="0.3" text-anchor="end">10<tspan font-size="22.5" dy="-13.7">-12</tspan></text>
<g transform="translate(72.1 900) rotate(-90)">
<text transform="translate(9.94 0) scale(1.0000 1.0000)" font-family='"Liberation Sans", sans-serif' font-size="29.8" fill="#262626" stroke="#262626" stroke-width="0.3">I</text>
<text transform="translate(20.07 15.2) scale(0.8786 1.0000)" font-family='"Liberation Sans", sans-serif' font-size="23.8" fill="#262626" stroke="#262626" stroke-width="0.3">DS</text>
<text transform="translate(62.13 0) scale(1.0578 1.0000)" font-family='"Liberation Sans", sans-serif' font-size="29.8" fill="#262626" stroke="#262626" stroke-width="0.3">(A/</text>
<text transform="translate(102.6 0) scale(0.9952 1.0000)" font-family='"Liberation Serif", serif' font-size="31" font-style="italic" fill="#262626" stroke="#262626" stroke-width="0.3">μ</text>
<text transform="translate(115.6 0) scale(1.1417 1.0000)" font-family='"Liberation Sans", sans-serif' font-size="29.8" fill="#262626" stroke="#262626" stroke-width="0.3">m)</text>
</g>
<text transform="translate(262.45 1004.2) scale(1.0054 1.0000)" font-family='"Liberation Sans", sans-serif' font-size="29.8" fill="#262626" stroke="#262626" stroke-width="0.3">V</text>
<text transform="translate(282.89 1019) scale(1.0548 1.0000)" font-family='"Liberation Sans", sans-serif' font-size="24.3" fill="#262626" stroke="#262626" stroke-width="0.3">BG</text>
<text transform="translate(328.14 1004.2) scale(1.0511 1.0000)" font-family='"Liberation Sans", sans-serif' font-size="29.8" fill="#262626" stroke="#262626" stroke-width="0.3">(V)</text>
<text transform="translate(322.91 887.75) scale(0.8811 1.0000)" font-family='"Liberation Serif", serif' font-size="30.15" font-style="italic" fill="#000" stroke="#000" stroke-width="0.25">V</text>
<text transform="translate(338.77 893.68) scale(0.9950 1.0000)" font-family='"Liberation Serif", serif' font-size="21.71" font-style="italic" fill="#000" stroke="#000" stroke-width="0.25">DS</text>
<text transform="translate(374.96 886.93) scale(1.1423 0.8262)" font-family='"Liberation Serif", serif' font-size="30.5" fill="#000">=</text>
<text transform="translate(402.09 888) scale(0.7583 1.0000)" font-family='"Liberation Serif", serif' font-size="30.3" fill="#000">1</text>
<text transform="translate(423.21 887.75) scale(0.9571 1.0000)" font-family='"Liberation Serif", serif' font-size="30.15" fill="#000">V</text>
</g>
<g id="panel-c">
<text transform="translate(497.63 674.2) scale(1.0610 1.0000)" font-family='"Liberation Sans", sans-serif' font-size="50.41" fill="#000">c</text>
<rect x="572.6" y="702.3" width="302.1" height="228.2" fill="none" stroke="#202020" stroke-width="1.9"/>
<path d="M658.91 930.5v-9.5M658.91 702.3v9.5M766.81 930.5v-9.5M766.81 702.3v9.5M572.6 873.45h9.5M874.7 873.45h-9.5M572.6 816.4h9.5M874.7 816.4h-9.5M572.6 759.35h9.5M874.7 759.35h-9.5" stroke="#202020" stroke-width="1.7" fill="none"/>
<path d="M572.6 743.38L594.18 747.94L615.76 747.94L637.34 747.94L658.91 747.94L680.49 747.94L702.07 747.94L723.65 752.5L745.23 752.5L766.81 752.5L788.39 752.5L809.96 757.07L831.54 757.07L853.12 752.5L874.7 752.5" stroke="#1f93ea" stroke-width="3.6" fill="none" stroke-linejoin="round"/>
<path d="M572.6 779.89L594.18 784.45L615.76 784.45L637.34 789.02L658.91 789.02L680.49 793.58L702.07 789.02L723.65 789.02L745.23 793.58L766.81 789.02L788.39 789.02L809.96 789.02L831.54 789.02L853.12 789.02L874.7 789.02" stroke="#3466ff" stroke-width="3.6" fill="none" stroke-linejoin="round"/>
<path d="M572.6 848.35L594.18 848.35L615.76 843.78L637.34 843.78L658.91 848.35L680.49 843.78L702.07 843.78L723.65 843.78L745.23 843.78L766.81 843.78L788.39 843.78L809.96 843.78L831.54 843.78L853.12 843.78L874.7 843.78" stroke="#4040e6" stroke-width="3.6" fill="none" stroke-linejoin="round"/>
<path d="M572.6 907.68L594.18 912.24L615.76 912.24L637.34 912.24L658.91 912.24L680.49 912.24L702.07 912.24L723.65 912.24L745.23 907.68L766.81 907.68L788.39 907.68L809.96 907.68L831.54 907.68L853.12 907.68L874.7 907.68" stroke="#3522b0" stroke-width="3.6" fill="none" stroke-linejoin="round"/>
<text x="658.61" y="966" font-family='"Liberation Sans", sans-serif' font-size="26.6" fill="#262626" stroke="#262626" stroke-width="0.3" text-anchor="middle">50</text>
<text x="766.51" y="966" font-family='"Liberation Sans", sans-serif' font-size="26.6" fill="#262626" stroke="#262626" stroke-width="0.3" text-anchor="middle">100</text>
<text x="874.4" y="966" font-family='"Liberation Sans", sans-serif' font-size="26.6" fill="#262626" stroke="#262626" stroke-width="0.3" text-anchor="middle">150</text>
<text x="563.8" y="940.1" font-family='"Liberation Sans", sans-serif' font-size="26.6" fill="#262626" stroke="#262626" stroke-width="0.3" text-anchor="end">0</text>
<text x="563.8" y="883.05" font-family='"Liberation Sans", sans-serif' font-size="26.6" fill="#262626" stroke="#262626" stroke-width="0.3" text-anchor="end">0.5</text>
<text x="563.8" y="826" font-family='"Liberation Sans", sans-serif' font-size="26.6" fill="#262626" stroke="#262626" stroke-width="0.3" text-anchor="end">1</text>
<text x="563.8" y="768.95" font-family='"Liberation Sans", sans-serif' font-size="26.6" fill="#262626" stroke="#262626" stroke-width="0.3" text-anchor="end">1.5</text>
<text x="563.8" y="711.9" font-family='"Liberation Sans", sans-serif' font-size="26.6" fill="#262626" stroke="#262626" stroke-width="0.3" text-anchor="end">2</text>
<g transform="translate(502.4 900) rotate(-90)">
<text transform="translate(24.55 0) scale(0.9865 1.0000)" font-family='"Liberation Sans", sans-serif' font-size="29.6" fill="#262626" stroke="#262626" stroke-width="0.3">V</text>
<text transform="translate(44.25 14.4) scale(1.0062 1.0000)" font-family='"Liberation Sans", sans-serif' font-size="23.2" fill="#262626" stroke="#262626" stroke-width="0.3">th,BG</text>
<text transform="translate(102.98 0) scale(1.0358 1.0000)" font-family='"Liberation Sans", sans-serif' font-size="29.6" fill="#262626" stroke="#262626" stroke-width="0.3">(V)</text>
</g>
<text transform="translate(669.54 1002.4) scale(1.0155 1.0000)" font-family='"Liberation Sans", sans-serif' font-size="28.8" fill="#262626" stroke="#262626" stroke-width="0.3">Time</text>
<text transform="translate(741.19 1002.4) scale(1.0625 1.0000)" font-family='"Liberation Sans", sans-serif' font-size="28.8" fill="#262626" stroke="#262626" stroke-width="0.3">(s)</text>
</g>
<g id="panel-d">
<text transform="translate(932.22 674.2) scale(1.0225 1.0000)" font-family='"Liberation Sans", sans-serif' font-size="50.2" fill="#000">d</text>
<rect x="1011.3" y="700" width="291.9" height="225" fill="none" stroke="#202020" stroke-width="1.9"/>
<path d="M1084.2 925v-9.5M1084.2 700v9.5M1157 925v-9.5M1157 700v9.5M1229.8 925v-9.5M1229.8 700v9.5M1011.3 728.4h9.5M1303.2 728.4h-9.5M1011.3 812.3h9.5M1303.2 812.3h-9.5M1011.3 896.6h9.5M1303.2 896.6h-9.5M1011.3 756.5h5.5M1303.2 756.5h-5.5M1011.3 784.4h5.5M1303.2 784.4h-5.5M1011.3 840.5h5.5M1303.2 840.5h-5.5M1011.3 868.5h5.5M1303.2 868.5h-5.5" stroke="#202020" stroke-width="1.7" fill="none"/>
<clipPath id="clipd"><rect x="1010.3" y="699" width="293.9" height="227"/></clipPath>
<g clip-path="url(#clipd)" fill="none" stroke-linejoin="round">
<path d="M1010.75 718.19C1011.67 718.27 1014.43 718.5 1016.27 718.67C1018.11 718.83 1019.96 719.01 1021.81 719.19C1023.65 719.37 1025.5 719.56 1027.36 719.75C1029.21 719.95 1031.06 720.15 1032.92 720.36C1034.77 720.57 1036.63 720.79 1038.49 721.01C1040.35 721.24 1042.21 721.47 1044.07 721.71C1045.93 721.95 1047.8 722.2 1049.66 722.45C1051.53 722.71 1053.39 722.97 1055.26 723.25C1057.12 723.52 1058.99 723.8 1060.85 724.09C1062.72 724.38 1064.59 724.67 1066.45 724.98C1068.32 725.28 1070.18 725.6 1072.05 725.92C1073.92 726.24 1075.78 726.58 1077.65 726.92C1079.51 727.26 1081.38 727.61 1083.24 727.97C1085.1 728.33 1086.96 728.69 1088.82 729.07C1090.69 729.45 1092.55 729.83 1094.4 730.23C1096.26 730.63 1098.12 731.03 1099.97 731.45C1101.83 731.86 1103.68 732.29 1105.53 732.72C1107.38 733.16 1109.23 733.6 1111.07 734.06C1112.92 734.51 1114.76 734.98 1116.6 735.45C1118.44 735.93 1120.28 736.42 1122.12 736.91C1123.95 737.41 1125.78 737.92 1127.61 738.43C1129.44 738.95 1131.26 739.48 1133.08 740.02C1134.9 740.56 1136.72 741.11 1138.53 741.67C1140.35 742.23 1142.15 742.8 1143.96 743.38C1145.76 743.97 1147.56 744.56 1149.36 745.17C1151.16 745.77 1152.95 746.39 1154.73 747.02C1156.52 747.65 1158.3 748.29 1160.08 748.94C1161.85 749.59 1163.62 750.26 1165.39 750.93C1167.15 751.61 1168.91 752.3 1170.66 753C1172.42 753.7 1174.17 754.41 1175.91 755.14C1177.65 755.86 1179.38 756.6 1181.11 757.35C1182.84 758.1 1184.56 758.86 1186.28 759.64C1188 760.41 1189.7 761.2 1191.41 762C1193.11 762.8 1194.8 763.62 1196.49 764.44C1198.18 765.27 1199.86 766.11 1201.53 766.96C1203.2 767.82 1204.87 768.68 1206.52 769.56C1208.18 770.45 1209.83 771.34 1211.47 772.25C1213.11 773.16 1214.74 774.08 1216.36 775.01C1217.98 775.95 1219.6 776.9 1221.21 777.86C1222.81 778.82 1224.41 779.8 1226 780.79C1227.58 781.79 1229.16 782.79 1230.73 783.81C1232.3 784.83 1233.86 785.87 1235.41 786.92C1236.96 787.97 1238.5 789.03 1240.03 790.11C1241.55 791.19 1243.07 792.29 1244.58 793.4C1246.09 794.51 1247.59 795.63 1249.08 796.77C1250.56 797.91 1252.04 799.06 1253.51 800.23C1254.97 801.4 1256.43 802.59 1257.87 803.79C1259.31 804.99 1260.75 806.21 1262.17 807.44C1263.59 808.68 1265 809.93 1266.39 811.19C1267.79 812.46 1269.17 813.74 1270.55 815.03C1271.92 816.33 1273.28 817.64 1274.63 818.97C1275.97 820.3 1277.31 821.65 1278.63 823.01C1279.95 824.37 1281.26 825.75 1282.56 827.15C1283.85 828.55 1285.14 829.96 1286.41 831.39C1287.67 832.82 1288.93 834.27 1290.17 835.73C1291.41 837.19 1292.64 838.67 1293.86 840.17C1295.07 841.67 1296.27 843.19 1297.46 844.72C1298.64 846.25 1299.81 847.8 1300.97 849.37C1302.12 850.94 1303.82 853.34 1304.39 854.13L1304.33 884.04C1303.85 883.13 1302.41 880.39 1301.42 878.6C1300.44 876.8 1299.43 875.02 1298.4 873.26C1297.37 871.5 1296.33 869.76 1295.26 868.04C1294.2 866.31 1293.12 864.6 1292.02 862.91C1290.92 861.22 1289.8 859.55 1288.66 857.89C1287.53 856.24 1286.38 854.6 1285.21 852.98C1284.04 851.36 1282.85 849.75 1281.65 848.17C1280.44 846.58 1279.22 845.01 1277.98 843.46C1276.75 841.91 1275.49 840.37 1274.22 838.85C1272.95 837.33 1271.67 835.83 1270.37 834.34C1269.07 832.86 1267.75 831.39 1266.42 829.94C1265.09 828.49 1263.74 827.05 1262.38 825.63C1261.01 824.21 1259.64 822.81 1258.25 821.42C1256.85 820.04 1255.45 818.67 1254.03 817.32C1252.61 815.96 1251.17 814.63 1249.73 813.3C1248.28 811.98 1246.82 810.68 1245.34 809.39C1243.87 808.1 1242.38 806.83 1240.88 805.57C1239.37 804.32 1237.86 803.07 1236.33 801.85C1234.81 800.63 1233.27 799.42 1231.71 798.22C1230.16 797.03 1228.6 795.85 1227.02 794.69C1225.45 793.53 1223.86 792.38 1222.26 791.25C1220.66 790.12 1219.05 789 1217.42 787.9C1215.8 786.8 1214.17 785.72 1212.52 784.65C1210.88 783.58 1209.23 782.53 1207.56 781.49C1205.9 780.45 1204.22 779.42 1202.53 778.42C1200.85 777.41 1199.15 776.41 1197.45 775.43C1195.74 774.46 1194.03 773.49 1192.3 772.54C1190.58 771.59 1188.85 770.66 1187.1 769.74C1185.36 768.82 1183.61 767.91 1181.85 767.02C1180.09 766.13 1178.32 765.26 1176.55 764.4C1174.77 763.54 1172.99 762.69 1171.2 761.86C1169.4 761.02 1167.6 760.21 1165.8 759.4C1163.99 758.6 1162.17 757.81 1160.35 757.03C1158.53 756.26 1156.7 755.5 1154.87 754.75C1153.03 754 1151.19 753.27 1149.34 752.55C1147.5 751.83 1145.64 751.13 1143.78 750.43C1141.92 749.74 1140.05 749.07 1138.18 748.4C1136.31 747.74 1134.43 747.09 1132.55 746.45C1130.67 745.81 1128.78 745.19 1126.89 744.58C1125 743.97 1123.1 743.37 1121.2 742.79C1119.3 742.21 1117.4 741.64 1115.49 741.08C1113.58 740.53 1111.66 739.98 1109.75 739.45C1107.83 738.92 1105.91 738.41 1103.98 737.9C1102.06 737.4 1100.13 736.91 1098.2 736.43C1096.27 735.95 1094.34 735.49 1092.4 735.03C1090.47 734.58 1088.53 734.14 1086.59 733.71C1084.65 733.29 1082.71 732.87 1080.77 732.47C1078.82 732.07 1076.88 731.68 1074.93 731.3C1072.98 730.93 1071.03 730.56 1069.08 730.21C1067.14 729.86 1065.18 729.52 1063.23 729.19C1061.28 728.87 1059.33 728.55 1057.38 728.25C1055.43 727.94 1053.48 727.65 1051.52 727.38C1049.57 727.1 1047.62 726.83 1045.67 726.57C1043.72 726.32 1041.77 726.08 1039.82 725.85C1037.87 725.61 1035.92 725.39 1033.97 725.19C1032.02 724.98 1030.08 724.78 1028.13 724.6C1026.19 724.41 1024.24 724.24 1022.3 724.08C1020.36 723.92 1018.42 723.77 1016.49 723.63C1014.55 723.49 1011.65 723.31 1010.68 723.24Z" fill="#402dc3" stroke="#402dc3" stroke-width="0.6"/>
<path d="M1010.27 724.04C1011.23 724.13 1014.12 724.37 1016.04 724.55C1017.96 724.73 1019.88 724.92 1021.8 725.13C1023.72 725.33 1025.64 725.54 1027.56 725.76C1029.48 725.99 1031.4 726.22 1033.31 726.47C1035.23 726.71 1037.15 726.97 1039.06 727.24C1040.98 727.51 1042.89 727.79 1044.8 728.08C1046.71 728.37 1048.62 728.67 1050.53 728.98C1052.44 729.3 1054.34 729.62 1056.25 729.96C1058.15 730.3 1060.05 730.65 1061.95 731.01C1063.85 731.37 1065.74 731.74 1067.64 732.13C1069.53 732.51 1071.42 732.91 1073.31 733.32C1075.2 733.73 1077.08 734.15 1078.96 734.58C1080.84 735.02 1082.72 735.46 1084.59 735.92C1086.46 736.38 1088.33 736.86 1090.2 737.34C1092.07 737.83 1093.93 738.32 1095.78 738.83C1097.64 739.35 1099.49 739.87 1101.34 740.41C1103.19 740.94 1105.04 741.49 1106.87 742.06C1108.71 742.62 1110.55 743.2 1112.38 743.79C1114.21 744.38 1116.03 744.98 1117.85 745.6C1119.67 746.22 1121.48 746.85 1123.29 747.49C1125.09 748.14 1126.89 748.8 1128.69 749.47C1130.49 750.15 1132.28 750.83 1134.06 751.53C1135.84 752.24 1137.62 752.95 1139.39 753.68C1141.16 754.41 1142.92 755.16 1144.68 755.92C1146.44 756.68 1148.19 757.45 1149.93 758.24C1151.67 759.03 1153.41 759.83 1155.14 760.65C1156.86 761.47 1158.59 762.3 1160.3 763.15C1162.01 764 1163.72 764.86 1165.41 765.74C1167.11 766.62 1168.8 767.51 1170.48 768.42C1172.16 769.33 1173.83 770.25 1175.5 771.19C1177.16 772.14 1178.82 773.09 1180.47 774.06C1182.11 775.04 1183.75 776.02 1185.38 777.03C1187.01 778.03 1188.63 779.05 1190.24 780.08C1191.85 781.12 1193.45 782.17 1195.04 783.23C1196.63 784.3 1198.21 785.38 1199.78 786.47C1201.35 787.57 1202.91 788.68 1204.46 789.8C1206.01 790.93 1207.55 792.07 1209.08 793.22C1210.61 794.38 1212.13 795.55 1213.64 796.73C1215.15 797.92 1216.65 799.11 1218.13 800.33C1219.62 801.54 1221.1 802.77 1222.56 804.01C1224.02 805.25 1225.48 806.51 1226.92 807.78C1228.36 809.05 1229.78 810.33 1231.2 811.63C1232.62 812.93 1234.02 814.24 1235.42 815.56C1236.81 816.89 1238.19 818.23 1239.56 819.58C1240.92 820.93 1242.28 822.3 1243.62 823.68C1244.96 825.06 1246.29 826.45 1247.61 827.86C1248.92 829.26 1250.23 830.68 1251.52 832.11C1252.8 833.55 1254.08 834.99 1255.34 836.45C1256.6 837.91 1257.85 839.38 1259.09 840.86C1260.32 842.34 1261.54 843.84 1262.75 845.35C1263.95 846.86 1265.15 848.38 1266.32 849.91C1267.5 851.45 1268.66 852.99 1269.81 854.55C1270.96 856.11 1272.09 857.68 1273.21 859.26C1274.33 860.84 1275.43 862.44 1276.52 864.04C1277.6 865.65 1278.67 867.27 1279.73 868.89C1280.79 870.52 1281.83 872.17 1282.85 873.82C1283.87 875.47 1284.88 877.13 1285.87 878.81C1286.87 880.48 1287.84 882.17 1288.8 883.87C1289.76 885.57 1291.15 888.14 1291.63 889" stroke="#4840e2" stroke-width="7.3"/>
<path d="M1010.42 728.57C1011.28 728.65 1013.86 728.88 1015.59 729.05C1017.31 729.22 1019.03 729.41 1020.75 729.61C1022.47 729.81 1024.19 730.02 1025.91 730.24C1027.63 730.47 1029.35 730.7 1031.07 730.95C1032.79 731.2 1034.51 731.47 1036.23 731.74C1037.95 732.02 1039.67 732.31 1041.38 732.61C1043.1 732.91 1044.81 733.22 1046.52 733.55C1048.24 733.88 1049.95 734.22 1051.66 734.57C1053.36 734.92 1055.07 735.29 1056.78 735.67C1058.48 736.05 1060.18 736.44 1061.88 736.84C1063.58 737.25 1065.28 737.66 1066.97 738.09C1068.67 738.52 1070.36 738.97 1072.05 739.42C1073.73 739.88 1075.42 740.35 1077.1 740.83C1078.78 741.31 1080.46 741.8 1082.13 742.31C1083.81 742.82 1085.48 743.34 1087.14 743.87C1088.81 744.4 1090.47 744.95 1092.13 745.5C1093.78 746.06 1095.44 746.63 1097.08 747.22C1098.73 747.8 1100.37 748.4 1102.01 749.01C1103.65 749.62 1105.28 750.24 1106.91 750.88C1108.54 751.51 1110.16 752.16 1111.78 752.82C1113.39 753.48 1115 754.16 1116.61 754.85C1118.21 755.53 1119.81 756.23 1121.4 756.95C1122.99 757.66 1124.58 758.38 1126.16 759.12C1127.73 759.86 1129.31 760.61 1130.87 761.38C1132.44 762.14 1133.99 762.92 1135.55 763.71C1137.1 764.5 1138.64 765.3 1140.18 766.12C1141.71 766.94 1143.24 767.76 1144.76 768.61C1146.28 769.45 1147.79 770.3 1149.3 771.17C1150.8 772.04 1152.3 772.92 1153.78 773.81C1155.27 774.71 1156.75 775.61 1158.22 776.53C1159.69 777.45 1161.15 778.38 1162.6 779.33C1164.05 780.27 1165.5 781.23 1166.93 782.2C1168.36 783.17 1169.79 784.16 1171.2 785.15C1172.61 786.15 1174.02 787.16 1175.41 788.18C1176.8 789.21 1178.19 790.24 1179.56 791.29C1180.93 792.34 1182.3 793.4 1183.65 794.47C1185 795.55 1186.34 796.64 1187.67 797.74C1189 798.84 1190.32 799.95 1191.63 801.08C1192.94 802.2 1194.23 803.34 1195.52 804.49C1196.8 805.65 1198.07 806.81 1199.34 807.99C1200.6 809.17 1201.85 810.36 1203.08 811.56C1204.32 812.77 1205.54 813.98 1206.75 815.21C1207.97 816.44 1209.16 817.68 1210.35 818.94C1211.54 820.2 1212.71 821.46 1213.87 822.75C1215.03 824.03 1216.18 825.32 1217.31 826.63C1218.44 827.94 1219.56 829.26 1220.67 830.59C1221.77 831.93 1222.86 833.27 1223.94 834.63C1225.02 835.99 1226.08 837.36 1227.13 838.75C1228.18 840.13 1229.21 841.53 1230.23 842.94C1231.25 844.35 1232.26 845.78 1233.25 847.22C1234.23 848.65 1235.21 850.1 1236.17 851.57C1237.13 853.03 1238.07 854.51 1239 856C1239.92 857.49 1240.84 858.99 1241.73 860.5C1242.63 862.02 1243.51 863.55 1244.37 865.09C1245.23 866.63 1246.08 868.18 1246.91 869.75C1247.74 871.32 1248.55 872.9 1249.35 874.49C1250.15 876.08 1250.93 877.69 1251.69 879.31C1252.45 880.93 1253.19 882.56 1253.92 884.21C1254.65 885.85 1255.69 888.35 1256.05 889.18" stroke="#4950f0" stroke-width="7.7"/>
<path d="M1010.05 733.55C1010.86 733.63 1013.32 733.89 1014.94 734.08C1016.57 734.27 1018.2 734.48 1019.82 734.7C1021.44 734.92 1023.05 735.16 1024.67 735.41C1026.28 735.66 1027.89 735.93 1029.49 736.2C1031.1 736.48 1032.7 736.77 1034.29 737.08C1035.89 737.39 1037.48 737.71 1039.07 738.04C1040.65 738.37 1042.24 738.72 1043.81 739.08C1045.39 739.45 1046.97 739.82 1048.53 740.21C1050.1 740.6 1051.67 741 1053.23 741.42C1054.78 741.83 1056.34 742.26 1057.89 742.71C1059.44 743.15 1060.98 743.6 1062.52 744.07C1064.06 744.54 1065.59 745.03 1067.12 745.52C1068.65 746.02 1070.17 746.53 1071.69 747.05C1073.21 747.57 1074.72 748.11 1076.23 748.65C1077.73 749.2 1079.23 749.76 1080.73 750.34C1082.22 750.91 1083.71 751.5 1085.2 752.1C1086.68 752.7 1088.16 753.31 1089.63 753.93C1091.1 754.56 1092.57 755.19 1094.03 755.84C1095.49 756.49 1096.94 757.16 1098.39 757.83C1099.84 758.5 1101.28 759.19 1102.71 759.89C1104.15 760.59 1105.58 761.3 1107 762.02C1108.42 762.75 1109.83 763.48 1111.24 764.23C1112.65 764.98 1114.05 765.74 1115.45 766.51C1116.84 767.28 1118.23 768.07 1119.61 768.86C1120.99 769.66 1122.37 770.46 1123.74 771.28C1125.1 772.1 1126.46 772.93 1127.82 773.77C1129.17 774.62 1130.52 775.47 1131.85 776.33C1133.19 777.2 1134.52 778.08 1135.85 778.96C1137.17 779.85 1138.49 780.75 1139.79 781.66C1141.1 782.57 1142.4 783.49 1143.7 784.43C1144.99 785.36 1146.27 786.31 1147.55 787.26C1148.83 788.22 1150.1 789.18 1151.36 790.16C1152.62 791.14 1153.87 792.12 1155.12 793.12C1156.36 794.12 1157.6 795.13 1158.83 796.15C1160.06 797.17 1161.28 798.2 1162.49 799.24C1163.7 800.29 1164.9 801.34 1166.1 802.4C1167.29 803.46 1168.48 804.54 1169.66 805.62C1170.83 806.7 1172 807.8 1173.16 808.9C1174.32 810 1175.47 811.12 1176.62 812.24C1177.76 813.36 1178.89 814.5 1180.02 815.64C1181.14 816.78 1182.26 817.93 1183.37 819.09C1184.48 820.25 1185.58 821.42 1186.67 822.6C1187.76 823.78 1188.84 824.96 1189.91 826.16C1190.99 827.35 1192.05 828.56 1193.11 829.77C1194.17 830.98 1195.21 832.2 1196.25 833.43C1197.29 834.66 1198.32 835.89 1199.34 837.13C1200.37 838.38 1201.38 839.63 1202.38 840.88C1203.39 842.14 1204.39 843.41 1205.37 844.68C1206.36 845.95 1207.34 847.23 1208.31 848.51C1209.28 849.8 1210.24 851.09 1211.2 852.39C1212.15 853.69 1213.09 854.99 1214.03 856.3C1214.97 857.61 1215.9 858.93 1216.81 860.25C1217.73 861.57 1218.64 862.9 1219.55 864.23C1220.45 865.56 1221.34 866.9 1222.23 868.24C1223.11 869.59 1223.99 870.93 1224.86 872.29C1225.72 873.64 1226.58 875 1227.43 876.36C1228.29 877.72 1229.13 879.09 1229.96 880.46C1230.8 881.83 1231.62 883.21 1232.44 884.58C1233.25 885.96 1234.46 888.04 1234.86 888.73" stroke="#4566fb" stroke-width="7.9"/>
<path d="M1242.5 926L1304.4 926L1304.4 880L1303.58 882.78L1302.17 880.07L1300.04 879.79L1298.01 883.75L1296.11 880.16L1294.18 882.33L1292.75 881.39L1290.62 884.43L1288.71 880.62L1286.57 880.54L1285.51 879.65L1283.82 881.5L1281.87 879.69L1279.86 883.5L1278.83 884.67L1277.76 883.26L1276.18 881.24L1274.61 883.86L1273.24 881.36L1271.42 879.62L1269.7 881.17L1268.62 880.36L1267.42 881.48L1266.06 884.25L1263.9 883.19L1261.77 880.66L1259.96 882.4L1257.81 881.1L1255.76 884.71L1254.5 880.69L1252.46 879.61L1251.3 882.81L1250.14 883.75L1248.95 883.58L1246.85 881.05L1245.59 879.67L1243.9 882.43L1242.6 882.04L1241.47 884.28L1239.69 884.51L1238.13 879.75L1236.02 883.45L1233.89 883.74L1232 882.84L1233.5 900L1235.2 920L1236.5 905L1238 896L1240 915L1242.5 926Z" fill="#4566fb" stroke="#4566fb" stroke-width="1"/>
</g>
<text x="1010.7" y="961.5" font-family='"Liberation Sans", sans-serif' font-size="28" fill="#262626" stroke="#262626" stroke-width="0.3" text-anchor="middle">-4</text>
<text x="1083.6" y="961.5" font-family='"Liberation Sans", sans-serif' font-size="28" fill="#262626" stroke="#262626" stroke-width="0.3" text-anchor="middle">-3</text>
<text x="1156.4" y="961.5" font-family='"Liberation Sans", sans-serif' font-size="28" fill="#262626" stroke="#262626" stroke-width="0.3" text-anchor="middle">-2</text>
<text x="1229.2" y="961.5" font-family='"Liberation Sans", sans-serif' font-size="28" fill="#262626" stroke="#262626" stroke-width="0.3" text-anchor="middle">-1</text>
<text x="1302.6" y="961.5" font-family='"Liberation Sans", sans-serif' font-size="28" fill="#262626" stroke="#262626" stroke-width="0.3" text-anchor="middle">0</text>
<text x="1003.1" y="743" font-family='"Liberation Sans", sans-serif' font-size="28" fill="#262626" stroke="#262626" stroke-width="0.3" text-anchor="end">10<tspan font-size="22.5" dy="-13.7">-6</tspan></text>
<text x="1003.1" y="826.9" font-family='"Liberation Sans", sans-serif' font-size="28" fill="#262626" stroke="#262626" stroke-width="0.3" text-anchor="end">10<tspan font-size="22.5" dy="-13.7">-9</tspan></text>
<text x="1003.1" y="911.2" font-family='"Liberation Sans", sans-serif' font-size="28" fill="#262626" stroke="#262626" stroke-width="0.3" text-anchor="end">10<tspan font-size="22.5" dy="-13.7">-12</tspan></text>
<g transform="translate(913.1 895.8) rotate(-90)">
<text transform="translate(9.94 0) scale(1.0000 1.0000)" font-family='"Liberation Sans", sans-serif' font-size="29.8" fill="#262626" stroke="#262626" stroke-width="0.3">I</text>
<text transform="translate(20.07 15.2) scale(0.8786 1.0000)" font-family='"Liberation Sans", sans-serif' font-size="23.8" fill="#262626" stroke="#262626" stroke-width="0.3">DS</text>
<text transform="translate(62.13 0) scale(1.0578 1.0000)" font-family='"Liberation Sans", sans-serif' font-size="29.8" fill="#262626" stroke="#262626" stroke-width="0.3">(A/</text>
<text transform="translate(102.6 0) scale(0.9952 1.0000)" font-family='"Liberation Serif", serif' font-size="31" font-style="italic" fill="#262626" stroke="#262626" stroke-width="0.3">μ</text>
<text transform="translate(115.6 0) scale(1.1417 1.0000)" font-family='"Liberation Sans", sans-serif' font-size="29.8" fill="#262626" stroke="#262626" stroke-width="0.3">m)</text>
</g>
<text transform="translate(1103.95 1000) scale(1.0054 1.0000)" font-family='"Liberation Sans", sans-serif' font-size="29.8" fill="#262626" stroke="#262626" stroke-width="0.3">V</text>
<text transform="translate(1124.39 1014.8) scale(1.0548 1.0000)" font-family='"Liberation Sans", sans-serif' font-size="24.3" fill="#262626" stroke="#262626" stroke-width="0.3">BG</text>
<text transform="translate(1169.64 1000) scale(1.0511 1.0000)" font-family='"Liberation Sans", sans-serif' font-size="29.8" fill="#262626" stroke="#262626" stroke-width="0.3">(V)</text>
<text transform="translate(1027.01 887.55) scale(0.8811 1.0000)" font-family='"Liberation Serif", serif' font-size="30.15" font-style="italic" fill="#000" stroke="#000" stroke-width="0.25">V</text>
<text transform="translate(1042.87 893.48) scale(0.9950 1.0000)" font-family='"Liberation Serif", serif' font-size="21.71" font-style="italic" fill="#000" stroke="#000" stroke-width="0.25">DS</text>
<text transform="translate(1079.06 886.73) scale(1.1423 0.8262)" font-family='"Liberation Serif", serif' font-size="30.5" fill="#000">=</text>
<text transform="translate(1106.19 887.8) scale(0.7583 1.0000)" font-family='"Liberation Serif", serif' font-size="30.3" fill="#000">1</text>
<text transform="translate(1127.31 887.55) scale(0.9571 1.0000)" font-family='"Liberation Serif", serif' font-size="30.15" fill="#000">V</text>
</g>
<g id="panel-e">
<text transform="translate(1364.28 674.2) scale(1.0383 1.0000)" font-family='"Liberation Sans", sans-serif' font-size="50.41" fill="#000">e</text>
<rect x="1414.6" y="698.8" width="294" height="227.9" fill="none" stroke="#202020" stroke-width="1.9"/>
<path d="M1498.6 926.7v-9.5M1498.6 698.8v9.5M1603.6 926.7v-9.5M1603.6 698.8v9.5M1414.6 712.9h9.5M1708.6 712.9h-9.5M1414.6 784.2h9.5M1708.6 784.2h-9.5M1414.6 855.5h9.5M1708.6 855.5h-9.5" stroke="#202020" stroke-width="1.7" fill="none"/>
<path d="M1414.6 720.03L1435.6 720.03L1456.6 712.9L1477.6 712.9L1498.6 720.03L1519.6 720.03L1540.6 720.03L1561.6 720.03L1582.6 720.03L1603.6 720.03L1624.6 727.16L1645.6 727.16L1666.6 734.29L1687.6 734.29L1708.6 734.29" stroke="#3522b0" stroke-width="3.6" fill="none" stroke-linejoin="round"/>
<path d="M1414.6 775.64L1435.6 764.24L1456.6 769.94L1477.6 764.24L1498.6 769.94L1519.6 769.94L1540.6 769.94L1561.6 769.94L1582.6 769.94L1603.6 769.94L1624.6 775.64L1645.6 781.35L1666.6 775.64L1687.6 775.64L1708.6 775.64" stroke="#4040e6" stroke-width="3.6" fill="none" stroke-linejoin="round"/>
<path d="M1414.6 838.39L1435.6 826.98L1456.6 826.98L1477.6 826.98L1498.6 821.28L1519.6 821.28L1540.6 821.28L1561.6 821.28L1582.6 826.98L1603.6 821.28L1624.6 826.98L1645.6 826.98L1666.6 826.98L1687.6 826.98L1708.6 826.98" stroke="#3466ff" stroke-width="3.6" fill="none" stroke-linejoin="round"/>
<path d="M1414.6 895.43L1435.6 884.02L1456.6 884.02L1477.6 878.32L1498.6 884.02L1519.6 878.32L1540.6 878.32L1561.6 878.32L1582.6 878.32L1603.6 878.32L1624.6 884.02L1645.6 878.32L1666.6 878.32L1687.6 872.61L1708.6 872.61" stroke="#1f93ea" stroke-width="3.6" fill="none" stroke-linejoin="round"/>
<text x="1498.3" y="961.6" font-family='"Liberation Sans", sans-serif' font-size="26.6" fill="#262626" stroke="#262626" stroke-width="0.3" text-anchor="middle">50</text>
<text x="1603.3" y="961.6" font-family='"Liberation Sans", sans-serif' font-size="26.6" fill="#262626" stroke="#262626" stroke-width="0.3" text-anchor="middle">100</text>
<text x="1708.3" y="961.6" font-family='"Liberation Sans", sans-serif' font-size="26.6" fill="#262626" stroke="#262626" stroke-width="0.3" text-anchor="middle">150</text>
<text x="1406.3" y="722.5" font-family='"Liberation Sans", sans-serif' font-size="26.6" fill="#262626" stroke="#262626" stroke-width="0.3" text-anchor="end">-1</text>
<text x="1406.3" y="793.8" font-family='"Liberation Sans", sans-serif' font-size="26.6" fill="#262626" stroke="#262626" stroke-width="0.3" text-anchor="end">-1.5</text>
<text x="1406.3" y="865.1" font-family='"Liberation Sans", sans-serif' font-size="26.6" fill="#262626" stroke="#262626" stroke-width="0.3" text-anchor="end">-2</text>
<text x="1406.3" y="936.4" font-family='"Liberation Sans", sans-serif' font-size="26.6" fill="#262626" stroke="#262626" stroke-width="0.3" text-anchor="end">-2.5</text>
<g transform="translate(1336.8 896.3) rotate(-90)">
<text transform="translate(24.55 0) scale(0.9865 1.0000)" font-family='"Liberation Sans", sans-serif' font-size="29.6" fill="#262626" stroke="#262626" stroke-width="0.3">V</text>
<text transform="translate(44.25 14.4) scale(1.0062 1.0000)" font-family='"Liberation Sans", sans-serif' font-size="23.2" fill="#262626" stroke="#262626" stroke-width="0.3">th,BG</text>
<text transform="translate(102.98 0) scale(1.0358 1.0000)" font-family='"Liberation Sans", sans-serif' font-size="29.6" fill="#262626" stroke="#262626" stroke-width="0.3">(V)</text>
</g>
<text transform="translate(1507.74 999.2) scale(1.0155 1.0000)" font-family='"Liberation Sans", sans-serif' font-size="28.8" fill="#262626" stroke="#262626" stroke-width="0.3">Time</text>
<text transform="translate(1579.39 999.2) scale(1.0625 1.0000)" font-family='"Liberation Sans", sans-serif' font-size="28.8" fill="#262626" stroke="#262626" stroke-width="0.3">(s)</text>
</g>
</svg>
</body>
</html>
